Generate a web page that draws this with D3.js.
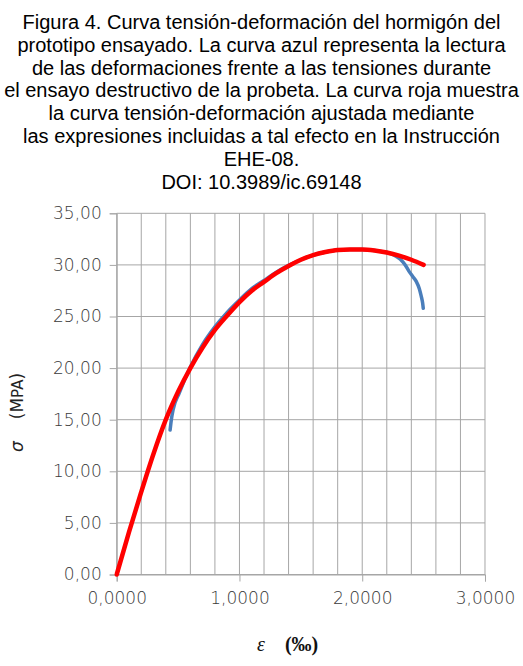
<!DOCTYPE html>
<html>
<head>
<meta charset="utf-8">
<script src="https://cdn.jsdelivr.net/npm/d3@7"></script>
<style>
  body { margin: 0; background: #fff; }
  svg { display: block; }
</style>
</head>
<body>
<div id="chart"></div>
<script>
var svgWidth = 523;
var svgHeight = 666;

var margin = { top: 213.3, right: 38, bottom: 91.5, left: 116.7 };
var width = svgWidth - margin.left - margin.right;
var height = svgHeight - margin.top - margin.bottom;

// title lines
var titleLines = [
  "Figura 4. Curva tensión-deformación del hormigón del",
  "prototipo ensayado. La curva azul representa la lectura",
  "de las deformaciones frente a las tensiones durante",
  "el ensayo destructivo de la probeta. La curva roja muestra",
  "la curva tensión-deformación ajustada mediante",
  "las expresiones incluidas a tal efecto en la Instrucción",
  "EHE-08.",
  "DOI: 10.3989/ic.69148"
];

// ticks
var xTicks = [0, 1, 2, 3];
var yTicks = [0, 5, 10, 15, 20, 25, 30, 35];
var xMinorGrid = [0.2, 0.4, 0.6, 0.8, 1.2, 1.4, 1.6, 1.8, 2.2, 2.4, 2.6, 2.8];

// blue curve: measured (strain in per mil, stress in MPa)
var blueStrain = [0.435, 0.445, 0.46, 0.51, 0.6, 0.7, 0.8, 0.9, 1.0, 1.1, 1.2, 1.3, 1.4, 1.5, 1.6, 1.7, 1.8, 1.9, 2.0, 2.1, 2.2, 2.26, 2.31, 2.35, 2.38, 2.41, 2.44, 2.465, 2.48, 2.492, 2.497];
var blueStress = [14.0, 15.0, 16.0, 17.6, 20.1, 22.3, 24.0, 25.4, 26.6, 27.7, 28.5, 29.3, 29.95, 30.5, 30.95, 31.25, 31.45, 31.5, 31.5, 31.4, 31.2, 30.95, 30.55, 30.0, 29.4, 28.9, 28.4, 27.7, 27.0, 26.3, 25.8];

// red curve: fitted EHE-08
var redStrain = [0, 0.1, 0.2, 0.3, 0.4, 0.5, 0.6, 0.7, 0.8, 0.9, 1.0, 1.1, 1.2, 1.3, 1.4, 1.5, 1.6, 1.7, 1.8, 1.9, 2.0, 2.1, 2.2, 2.3, 2.4, 2.5];
var redStress = [0, 4.1, 8.0, 11.7, 15.0, 17.7, 20.0, 22.0, 23.7, 25.1, 26.4, 27.5, 28.35, 29.2, 29.9, 30.5, 30.95, 31.25, 31.45, 31.5, 31.5, 31.4, 31.2, 30.9, 30.5, 30.0];

var svg = d3.select("#chart")
  .append("svg")
  .attr("width", svgWidth)
  .attr("height", svgHeight);

// title
svg.append("g")
  .selectAll("text")
  .data(titleLines)
  .enter()
  .append("text")
  .attr("x", svgWidth / 2)
  .attr("y", (d, i) => 29 + i * 22.8)
  .attr("text-anchor", "middle")
  .style("font-family", "'Liberation Sans', Arial, sans-serif")
  .style("font-size", "20px")
  .attr("fill", "#000")
  .text(d => d);

var chartGroup = svg.append("g")
  .attr("transform", `translate(${margin.left}, ${margin.top})`);

var xLinearScale = d3.scaleLinear().domain([0, 3]).range([0, width]);
var yLinearScale = d3.scaleLinear().domain([0, 35]).range([height, 0]);

var gridColor = "#a6a6a6";

// vertical grid lines (minor every 0.2)
chartGroup.append("g")
  .selectAll("line")
  .data(xMinorGrid.concat(xTicks))
  .enter()
  .append("line")
  .attr("x1", d => xLinearScale(d))
  .attr("x2", d => xLinearScale(d))
  .attr("y1", 0)
  .attr("y2", height)
  .attr("stroke", gridColor)
  .attr("stroke-width", 1);

// horizontal grid lines
chartGroup.append("g")
  .selectAll("line")
  .data(yTicks)
  .enter()
  .append("line")
  .attr("x1", 0)
  .attr("x2", width)
  .attr("y1", d => yLinearScale(d))
  .attr("y2", d => yLinearScale(d))
  .attr("stroke", gridColor)
  .attr("stroke-width", 1);

var tickFont = "'DejaVu Sans', sans-serif";

// axes
var bottomAxis = d3.axisBottom(xLinearScale)
  .tickValues(xTicks)
  .tickSize(7)
  .tickPadding(10)
  .tickFormat(d => d3.format(".4f")(d).replace(".", ","));
var leftAxis = d3.axisLeft(yLinearScale)
  .tickValues(yTicks)
  .tickSize(7)
  .tickPadding(8)
  .tickFormat(d => d3.format(".2f")(d).replace(".", ","));

var xAxis = chartGroup.append("g")
  .attr("transform", `translate(0, ${height})`)
  .call(bottomAxis);
var yAxis = chartGroup.append("g")
  .call(leftAxis);

[xAxis, yAxis].forEach(function(ax) {
  ax.select(".domain").attr("stroke", gridColor);
  ax.selectAll(".tick line").attr("stroke", gridColor);
  ax.selectAll(".tick text")
    .attr("fill", "#3a3a3a")
    .style("font-family", tickFont)
    .style("font-weight", "200")
    .style("font-size", "17px");
});

// curves
var line = d3.line()
  .x(d => xLinearScale(d[0]))
  .y(d => yLinearScale(d[1]))
  .curve(d3.curveMonotoneX);

var blueData = blueStrain.map((v, i) => [v, blueStress[i]]);
var redData = redStrain.map((v, i) => [v, redStress[i]]);

chartGroup.append("path")
  .datum(blueData)
  .attr("d", line)
  .attr("fill", "none")
  .attr("stroke", "#4a7ebb")
  .attr("stroke-width", 3.5)
  .attr("stroke-linecap", "round")
  .attr("stroke-linejoin", "round");

chartGroup.append("path")
  .datum(redData)
  .attr("d", line)
  .attr("fill", "none")
  .attr("stroke", "#ff0000")
  .attr("stroke-width", 4.5)
  .attr("stroke-linecap", "round")
  .attr("stroke-linejoin", "round");

// axis titles
svg.append("text")
  .attr("transform", "translate(23, 452) rotate(-90)")
  .attr("text-anchor", "start")
  .style("font-family", tickFont)
  .style("font-size", "17px")
  .attr("fill", "#222")
  .html("<tspan font-style='italic'>σ</tspan><tspan dx='22'>(M</tspan><tspan font-size='15px'>PA</tspan><tspan>)</tspan>");

svg.append("text")
  .attr("x", 257)
  .attr("y", 651)
  .attr("text-anchor", "start")
  .style("font-family", "'Liberation Serif', serif")
  .style("font-size", "20px")
  .attr("fill", "#111")
  .html("<tspan font-style='italic'>ε</tspan><tspan dx='20' font-weight='bold'>(‰)</tspan>");
</script>
</body>
</html>
